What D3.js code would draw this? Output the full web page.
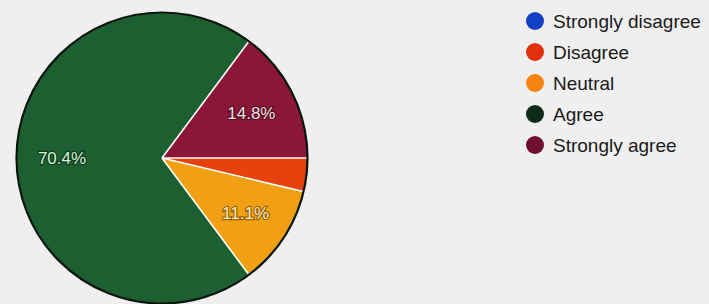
<!DOCTYPE html>
<html><head><meta charset="utf-8">
<script src="https://cdn.jsdelivr.net/npm/d3@7"></script>
<style>
html,body{margin:0;padding:0;background:#efefef;}
svg{display:block;}
</style></head>
<body>
<svg id="chart" width="709" height="304"></svg>
<script>
const categories = ["Strongly disagree","Disagree","Neutral","Agree","Strongly agree"];
const counts = [0,1,3,19,4];
const colors = ["#1b3fc4","#e6420d","#f2a013","#1c5f31","#8c1638"];
const legendColors = ["#1240c2","#e0300f","#f5830f","#0e2a18","#701030"];
const labelColors = ["#ffffff","#ffffff","#fbe7b8","#d4f2d4","#f5e0e6"];

const svg = d3.select("#chart");
const W = 709, H = 304;
svg.append("rect").attr("width",W).attr("height",H).attr("fill","#efefef");

const cx = 162, cy = 158, R = 145;
const total = d3.sum(counts);
const pie = d3.pie().sort(null).value(d=>d.v)
  .startAngle(Math.PI/2).endAngle(Math.PI/2 + 2*Math.PI);
const data = categories.map((c,i)=>({c, v:counts[i], i}));
const arcs = pie(data);
const shown = arcs.filter(a=>a.data.v>0);
const arc = d3.arc().innerRadius(0).outerRadius(R);
const labelArc = d3.arc().innerRadius(100).outerRadius(100);

const g = svg.append("g").attr("transform",`translate(${cx},${cy})`);
g.selectAll("path.slice").data(shown).enter()
  .append("path").attr("class","slice")
  .attr("d",arc).attr("fill",d=>colors[d.data.i]);
// white separators
g.selectAll("line.sep").data(shown).enter().append("line")
  .attr("x1",0).attr("y1",0)
  .attr("x2",d=>R*Math.sin(d.startAngle)).attr("y2",d=>-R*Math.cos(d.startAngle))
  .attr("stroke","#ffffff").attr("stroke-width",1.6);
// dark outline
g.append("circle").attr("r",R+0.5).attr("fill","none")
  .attr("stroke","#0a160d").attr("stroke-width",2.2);

const fmt = v => (v/total*100).toFixed(1)+"%";
const lab = arcs.filter(a=>a.data.v/total > 0.05);
g.selectAll("text.shadow").data(lab).enter().append("text")
  .attr("transform",d=>`translate(${labelArc.centroid(d)})`)
  .attr("text-anchor","middle").attr("dy","0.35em")
  .attr("font-family","Liberation Sans, Arial, sans-serif").attr("font-size",17)
  .attr("fill","none").attr("stroke","rgba(0,0,0,0.4)").attr("stroke-width",2.5)
  .text(d=>fmt(d.data.v));
g.selectAll("text.lbl").data(lab).enter().append("text")
  .attr("transform",d=>`translate(${labelArc.centroid(d)})`)
  .attr("text-anchor","middle").attr("dy","0.35em")
  .attr("font-family","Liberation Sans, Arial, sans-serif").attr("font-size",17)
  .attr("fill",d=>labelColors[d.data.i])
  .text(d=>fmt(d.data.v));

const ly = d3.scalePoint().domain(categories).range([21,145]);
const leg = svg.append("g");
const rows = leg.selectAll("g").data(categories).enter().append("g")
  .attr("transform",d=>`translate(0,${ly(d)})`);
rows.append("circle").attr("cx",535).attr("r",9).attr("fill",(d,i)=>legendColors[i]);
rows.append("text").attr("x",553).attr("dy","0.36em")
  .attr("font-family","Liberation Sans, Arial, sans-serif").attr("font-size",19)
  .attr("fill","#1a1a1a").text(d=>d);
</script>
</body></html>
